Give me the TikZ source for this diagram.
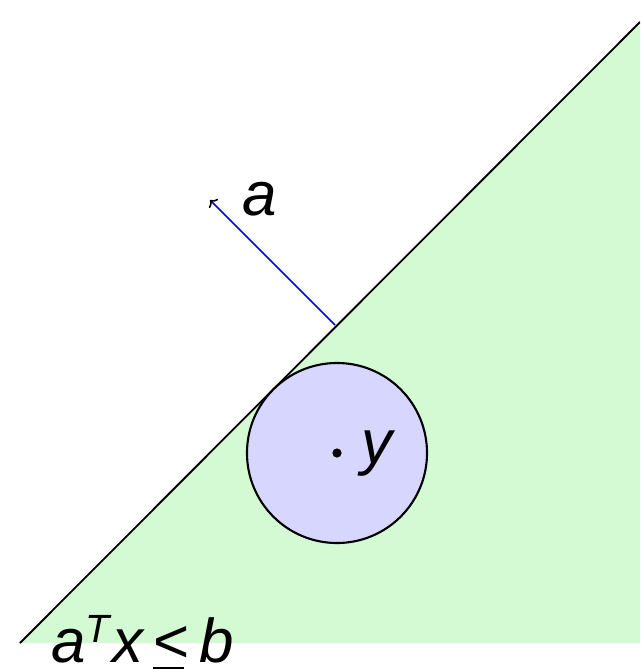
\documentclass[tikz,border=0pt]{standalone}
\usepackage{fontspec}
\setmainfont{Liberation Sans}
\usetikzlibrary{arrows.meta}
\definecolor{halfgreen}{RGB}{212,250,212}
\definecolor{ballblue}{RGB}{214,214,255}
\tikzset{plane/.style={draw,line width=1.3pt},ball/.style={draw,circle,line width=1.5pt,fill=ballblue,minimum size=4.5cm,inner sep=0pt},dot/.style={circle,fill=black,minimum size=0.23cm,inner sep=0pt},lbl/.style={font=\fontsize{44}{44}\selectfont\itshape,inner sep=0pt,anchor=base west},normal/.style={blue,line width=1.1pt,-{To[black,length=4pt,width=9pt]}}}

\begin{document}
\begin{tikzpicture}[x=0.025cm,y=-0.025cm]
\useasboundingbox (0,0) rectangle (640,670);
\clip (0,0) rectangle (640,670);
% halfspace and its boundary
\coordinate (low) at (20,643); \coordinate (high) at (640,22);
\fill[halfgreen] (low) -- (high) -- (640,643) -- cycle;
\draw[plane] (low) -- (high);
% normal vector
\coordinate (foot) at (335,325); \coordinate (tip) at (210,200);
\draw[normal] (foot) -- (tip);
% ball around y
\node[ball] (yball) at (337,453) {};
\node[dot] (y) at (yball.center) {};
\node[lbl] (alabel) at (242,215) {a};
\node[lbl] (ylabel) at (361,463) {y};
\node[lbl] (ineq) at (51,662) {a\raisebox{14pt}{\fontsize{28}{28}\selectfont T}\hspace{2pt}x\hspace{7pt}{\upshape\rlap{\rule[-5pt]{22pt}{1.4pt}}<}\hspace{7pt}b};
\end{tikzpicture}
\end{document}
